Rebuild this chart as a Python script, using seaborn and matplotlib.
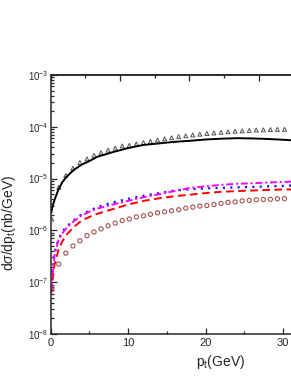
import numpy as np
import pandas as pd
import matplotlib
matplotlib.use("Agg")
import matplotlib.pyplot as plt
import seaborn as sns
from matplotlib.ticker import LogLocator, NullFormatter, FixedLocator

# ---------------- data ----------------
pt_line = [0.08, 0.2, 0.5, 1, 1.5, 2, 3, 4, 5, 6, 8, 10, 12, 14, 16, 18,
           20, 22, 24, 26, 28, 30, 31]
black_solid = [2.19e-6, 2.82e-6, 3.89e-6, 6.17e-6, 8.51e-6, 1.07e-5, 1.48e-5,
               1.86e-5, 2.19e-5, 2.63e-5, 3.24e-5, 3.89e-5, 4.47e-5, 4.79e-5,
               5.13e-5, 5.37e-5, 5.69e-5, 5.89e-5, 6.03e-5, 5.96e-5, 5.82e-5,
               5.62e-5, 5.50e-5]
magenta_dashdot = [7.08e-8, 1.29e-7, 3.39e-7, 6.46e-7, 8.71e-7, 1.10e-6,
                   1.51e-6, 1.95e-6, 2.29e-6, 2.63e-6, 3.16e-6, 3.72e-6,
                   4.37e-6, 5.01e-6, 5.75e-6, 6.61e-6, 7.08e-6, 7.59e-6,
                   7.94e-6, 8.13e-6, 8.41e-6, 8.61e-6, 8.71e-6]
blue_dotted = [7.94e-8, 1.41e-7, 3.80e-7, 6.76e-7, 9.33e-7, 1.17e-6, 1.58e-6,
               2.04e-6, 2.40e-6, 2.82e-6, 3.47e-6, 4.07e-6, 4.68e-6, 5.25e-6,
               5.89e-6, 6.24e-6, 6.46e-6, 6.61e-6, 6.76e-6, 6.92e-6, 7.08e-6,
               7.24e-6, 7.33e-6]
red_dashed = [6.31e-8, 9.55e-8, 2.19e-7, 4.17e-7, 6.17e-7, 8.13e-7, 1.17e-6,
              1.55e-6, 1.82e-6, 2.09e-6, 2.57e-6, 3.16e-6, 3.72e-6, 4.17e-6,
              4.57e-6, 4.90e-6, 5.25e-6, 5.56e-6, 5.75e-6, 5.89e-6, 6.03e-6,
              6.17e-6, 6.17e-6]

pt_pts = [0.13, 1.04, 1.95, 2.86, 3.77, 4.68, 5.59, 6.50, 7.41, 8.32, 9.23,
          10.14, 11.05, 11.96, 12.87, 13.78, 14.69, 15.60, 16.51, 17.42,
          18.33, 19.24, 20.15, 21.06, 21.97, 22.88, 23.79, 24.70, 25.61,
          26.52, 27.43, 28.34, 29.25, 30.16]
triangles = [1.66e-6, 6.76e-6, 1.15e-5, 1.58e-5, 2.04e-5, 2.40e-5, 2.82e-5,
             3.16e-5, 3.55e-5, 3.89e-5, 4.27e-5, 4.37e-5, 4.68e-5, 4.95e-5,
             5.25e-5, 5.55e-5, 5.85e-5, 6.15e-5, 6.45e-5, 6.70e-5, 6.95e-5,
             7.20e-5, 7.40e-5, 7.60e-5, 7.80e-5, 8.00e-5, 8.20e-5, 8.35e-5,
             8.50e-5, 8.65e-5, 8.75e-5, 8.85e-5, 8.90e-5, 8.95e-5]
circles = [7.24e-8, 2.24e-7, 3.63e-7, 5.01e-7, 6.31e-7, 7.94e-7, 9.33e-7,
           1.07e-6, 1.23e-6, 1.38e-6, 1.55e-6, 1.66e-6, 1.82e-6, 1.91e-6,
           2.04e-6, 2.19e-6, 2.29e-6, 2.40e-6, 2.51e-6, 2.69e-6, 2.82e-6,
           2.95e-6, 3.02e-6, 3.16e-6, 3.31e-6, 3.47e-6, 3.55e-6, 3.72e-6,
           3.80e-6, 3.89e-6, 3.95e-6, 3.98e-6, 4.07e-6, 4.10e-6]

x_ticks_major = [0, 10, 20, 30]
x_ticks_minor = [5, 15, 25]
x_ticklabels = ["0", "10", "20", "30"]
xlabel = r"p$_{\mathrm{t}}$(GeV)"
ylabel = r"d$\sigma$/dp$_{\mathrm{t}}$(nb/GeV)"

# ---------------- style ----------------
sns.set_style("ticks")
plt.rcParams["font.family"] = ["Liberation Sans", "DejaVu Sans"]
plt.rcParams["mathtext.fontset"] = "custom"
plt.rcParams["mathtext.rm"] = "Liberation Sans"
plt.rcParams["mathtext.it"] = "Liberation Sans:italic"
plt.rcParams["mathtext.sf"] = "Liberation Sans"
plt.rcParams["lines.scale_dashes"] = False

fig = plt.figure(figsize=(2.91, 3.76), dpi=100)
L, R = 50.7 / 291, 291 / 291
B, T = 1 - 334 / 376, 1 - 75 / 376
ax = fig.add_axes([L, B, R - L, T - B])

lines = pd.DataFrame({"pt": pt_line, "black": black_solid,
                      "magenta": magenta_dashdot, "blue": blue_dotted,
                      "red": red_dashed})
pts = pd.DataFrame({"pt": pt_pts, "tri": triangles, "circ": circles})

sns.lineplot(data=lines, x="pt", y="black", ax=ax, color="black", lw=1.4)
sns.lineplot(data=lines, x="pt", y="red", ax=ax, color="#ff0000", lw=1.4,
             linestyle=(0, (5.5, 3.2)))
sns.lineplot(data=lines, x="pt", y="blue", ax=ax, color="#1010ff", lw=1.6,
             linestyle=(0, (1.5, 3.8)))
sns.lineplot(data=lines, x="pt", y="magenta", ax=ax, color="#ff00ff", lw=1.4,
             linestyle=(0, (5, 2, 1.5, 2)))
sns.scatterplot(data=pts, x="pt", y="tri", ax=ax, marker="^", s=8,
                facecolor="none", edgecolor="#505050", linewidth=0.7)
sns.scatterplot(data=pts, x="pt", y="circ", ax=ax, marker="o", s=9,
                facecolor="none", edgecolor="#a85050", linewidth=0.8)

ax.set_yscale("log")
ax.set_ylim(1e-8, 1e-3)
ax.set_xlim(0, 31.0)

ax.xaxis.set_major_locator(FixedLocator(x_ticks_major))
ax.xaxis.set_minor_locator(FixedLocator(x_ticks_minor))
ax.set_xticklabels(x_ticklabels)
ax.yaxis.set_major_locator(LogLocator(base=10, numticks=20))
ax.yaxis.set_minor_locator(LogLocator(base=10, subs=np.arange(2, 10), numticks=100))
ax.yaxis.set_minor_formatter(NullFormatter())

ax.tick_params(which="both", direction="in", top=False, right=False, width=0.9)
ax.tick_params(which="major", length=4)
ax.tick_params(which="minor", length=2.2)
ax.tick_params(axis="x", labelsize=8, pad=3)
ax.tick_params(axis="y", labelsize=7, pad=1.5)

for s in ["left", "bottom", "top"]:
    ax.spines[s].set_linewidth(1.1)
ax.spines["right"].set_visible(False)

# secondary top scale (ticks only)
ax2 = ax.twiny()
ax2.set_xlim(0, 34.63)
ax2.xaxis.set_major_locator(FixedLocator(x_ticks_major))
ax2.xaxis.set_minor_locator(FixedLocator(x_ticks_minor))
ax2.tick_params(which="both", direction="in", labeltop=False, width=0.9)
ax2.tick_params(which="major", length=4)
ax2.tick_params(which="minor", length=2.2)
for s in ["left", "bottom", "right"]:
    ax2.spines[s].set_visible(False)
ax2.spines["top"].set_linewidth(1.1)

ax.set_xlabel(xlabel, fontsize=10)
ax.set_ylabel(ylabel, fontsize=10)
ax.xaxis.set_label_coords(0.705, -0.075)
ax.yaxis.set_label_coords(-0.138, 0.43)

fig.savefig("out.png", dpi=100)
